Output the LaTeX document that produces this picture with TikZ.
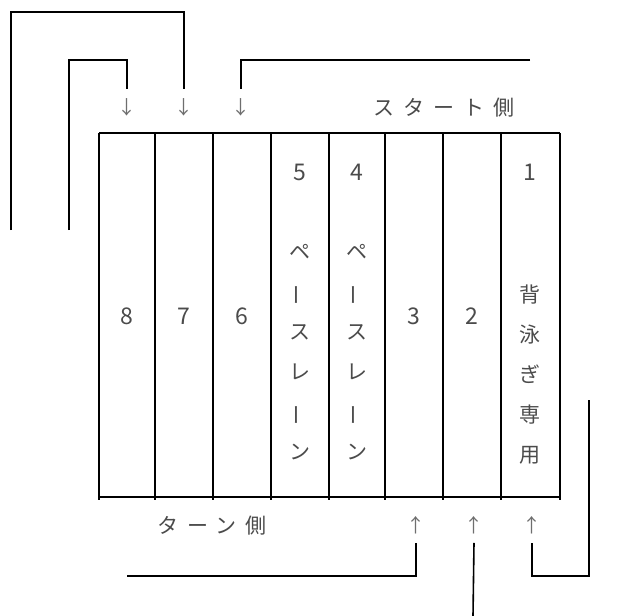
\documentclass[tikz,border=0pt]{standalone}
\usepackage{fontspec}
\setmainfont{Noto Sans CJK JP}
\usepackage{graphicx}
\definecolor{txtgray}{RGB}{75,75,75}
\definecolor{arrgray}{RGB}{110,110,110}
\newcommand{\vbar}{\rotatebox[origin=c]{90}{ー}}
\begin{document}
\begin{tikzpicture}[x=1pt,y=-1pt,
  conn/.style={line width=1.6pt, black},
  gridline/.style={line width=1.6pt, black},
  num/.style={text=txtgray, font=\fontsize{23}{28}\selectfont, inner sep=0pt},
  lbl/.style={text=txtgray, font=\fontsize{21}{40}\selectfont, inner sep=0pt, align=center},
  arr/.style={text=arrgray, font=\fontsize{19}{22}\selectfont, inner sep=0pt},
  sidelbl/.style={text=txtgray, font=\fontsize{21}{24}\selectfont\addfontfeature{LetterSpace=42}, inner sep=0pt}]
\useasboundingbox (0,0) rectangle (638,616);

% lane grid
\draw[gridline] (99,133) -- (560,133);
\draw[gridline] (99,497) -- (560,497);
\foreach \x in {99,155,213,271,329,385,443,501,560}
  \draw[gridline] (\x,133) -- (\x,500);

% lane labels
\node[num] (l5) at (300,172) {5};
\node[num] (l4) at (357,172) {4};
\node[num] (l1) at (530,172) {1};
\node[num] (l8) at (127,316) {8};
\node[num] (l7) at (184,316) {7};
\node[num] (l6) at (242,316) {6};
\node[num] (l3) at (414,316) {3};
\node[num] (l2) at (472,316) {2};
\node[lbl] (p5) at (300,352) {ペ\\\vbar\\ス\\レ\\\vbar\\ン};
\node[lbl] (p4) at (357,352) {ペ\\\vbar\\ス\\レ\\\vbar\\ン};
\node[lbl] (bk) at (530,375) {背\\泳\\ぎ\\専\\用};

% side labels
\node[sidelbl] (start) at (444,108) {スタート側};
\node[sidelbl] (turn) at (212,526) {ターン側};

% arrows
\node[arr] (a8) at (127,107) {↓};
\node[arr] (a7) at (184,107) {↓};
\node[arr] (a6) at (241,107) {↓};
\node[arr] (a3) at (416,525) {↑};
\node[arr] (a2) at (474,525) {↑};
\node[arr] (a1) at (532,525) {↑};

% free ends
\coordinate (e7) at (11,230);
\coordinate (e8) at (69,230);
\coordinate (e6) at (530,60);
\coordinate (e3) at (127,576);
\coordinate (e2) at (473,616);
\coordinate (e1) at (589,400);

% connectors
\draw[conn] (e7) |- (100,12) -| ([yshift=9pt]a7.north);
\draw[conn] (e8) |- (100,60) -| ([yshift=9pt]a8.north);
\draw[conn] (e6) -| ([yshift=9pt]a6.north);
\draw[conn] (e3) -| ([yshift=-9pt]a3.south);
\draw[conn] (e2) -- ([yshift=-9pt]a2.south);
\draw[conn] (e1) |- (560,576) -| ([yshift=-9pt]a1.south);
\end{tikzpicture}
\end{document}
